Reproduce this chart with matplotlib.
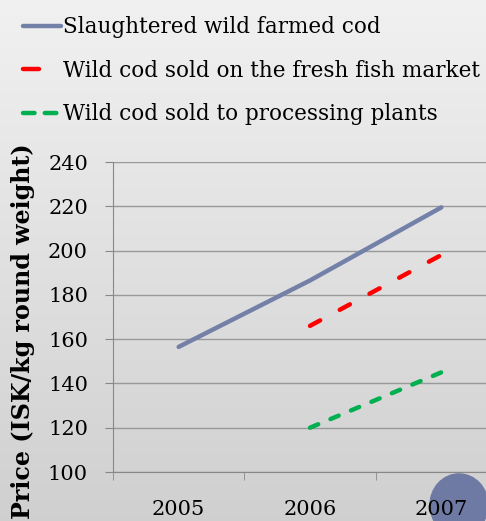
import numpy as np
import matplotlib
matplotlib.use("Agg")
import matplotlib.pyplot as plt
from matplotlib.lines import Line2D
from matplotlib.patches import Circle

# price data, ISK per kg round weight
years = ["2005", "2006", "2007"]
farmed_cod = [156.5, 186.5, 219.5]
fresh_market = [None, 166.0, 198.0]
processing = [None, 120.0, 145.0]
yticks = [100, 120, 140, 160, 180, 200, 220, 240]
labels = ["Slaughtered wild farmed cod",
          "Wild cod sold on the fresh fish market",
          "Wild cod sold to processing plants"]

plt.rcParams["font.family"] = ["DejaVu Serif"]

fig = plt.figure(figsize=(4.86, 5.21), dpi=100)

# grey gradient backdrop
bg = fig.add_axes([0, 0, 1, 1], zorder=-10)
grad = np.linspace(0.945, 0.815, 256).reshape(-1, 1)
bg.imshow(np.dstack([grad, grad, grad]), aspect="auto", extent=[0, 1, 0, 1])
bg.set_axis_off()

ax = fig.add_axes([113 / 486, 1 - 472 / 521, 394 / 486, 310 / 521])
ax.patch.set_alpha(0)

x = np.arange(len(years))

def pts(vals):
    xs = [xi for xi, v in zip(x, vals) if v is not None]
    ys = [v for v in vals if v is not None]
    return xs, ys

blue, red, green = "#7380a8", "#ff0000", "#00b050"
lw = 3.2
ax.plot(*pts(farmed_cod), color=blue, lw=lw, solid_capstyle="round")
ax.plot(*pts(fresh_market), color=red, lw=lw, dash_capstyle="round",
        dashes=(2.6, 5.0))
ax.plot(*pts(processing), color=green, lw=lw, dash_capstyle="round",
        dashes=(2.0, 3.0))

ax.set_xlim(-0.5, 2.5)
ax.set_ylim(100, 240)
ax.set_yticks(yticks)
ax.set_yticklabels([str(t) for t in yticks], fontsize=15)
ax.set_xticks(x)
ax.set_xticklabels(years, fontsize=15)
ax.set_xticks(np.append(x - 0.5, 2.5), minor=True)
ax.tick_params(axis="x", which="major", length=0, pad=20)
ax.tick_params(axis="x", which="minor", length=6, color="#888888", direction="out")
ax.tick_params(axis="y", length=6, color="#888888", pad=12)
ax.grid(axis="y", color="#999999", lw=1)
for side in ["top", "right"]:
    ax.spines[side].set_visible(False)
ax.spines["left"].set_color("#888888")
ax.spines["bottom"].set_color("#888888")
ax.set_axisbelow(True)

fig.text(23 / 486, 1 - 331 / 521, "Price (ISK/kg round weight)", rotation=90,
         fontsize=17.1, fontweight="bold", ha="center", va="center")

# legend keys with their own dash spacing
handles = [
    Line2D([], [], color=blue, lw=lw, solid_capstyle="round"),
    Line2D([], [], color=red, lw=lw, dash_capstyle="round", dashes=(3.6, 9)),
    Line2D([], [], color=green, lw=lw, dash_capstyle="round", dashes=(2.6, 2.3)),
]
fig.legend(handles, labels, loc="upper left", bbox_to_anchor=(0.015, 1.0),
           frameon=False, fontsize=15.5, handlelength=1.75, handletextpad=0.08,
           labelspacing=1.0, borderaxespad=0.35)

# decorative circle in the corner
fig.patches.append(Circle((459 / 486, 1 - 505 / 521), 29 / 486, transform=fig.transFigure,
                          color="#6e7aa4", zorder=-1))

fig.savefig("out.png", dpi=100)
